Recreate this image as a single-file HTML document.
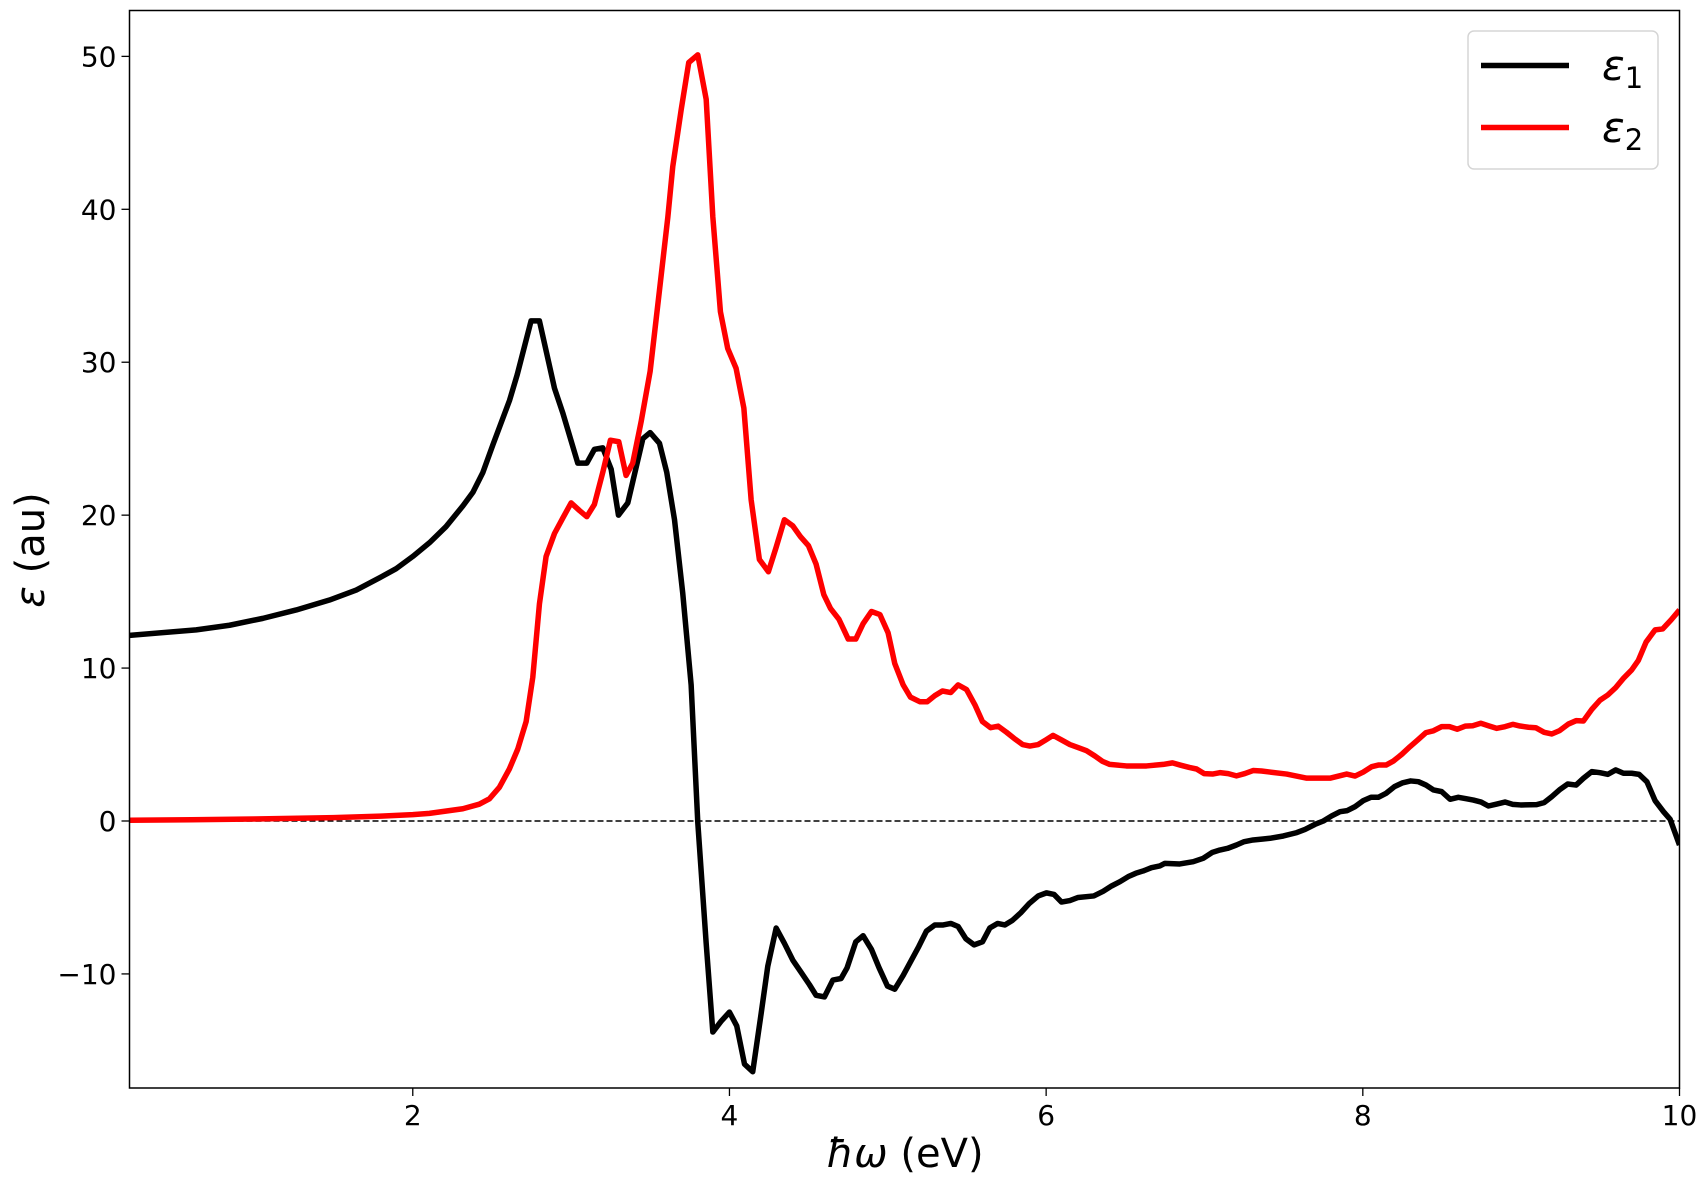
<!DOCTYPE html>
<html><head><meta charset="utf-8"><style>
html,body{margin:0;padding:0;background:#fff;}
svg{display:block;font-family:"DejaVu Sans","Liberation Sans",sans-serif;}
</style></head><body>
<svg id="chart" width="1707" height="1183" viewBox="0 0 1707 1183" xmlns="http://www.w3.org/2000/svg">
<rect x="0" y="0" width="1707" height="1183" fill="#fff"/>
<g id="grid-layer"></g>
<g id="series-layer"></g>
<rect x="129.5" y="10.5" width="1550" height="1077.5" fill="none" stroke="#000" stroke-width="1.5"/>
<g id="tick-layer"></g>
<text x="905" y="1167" font-size="40" text-anchor="middle"><tspan font-style="italic">ħω</tspan> (eV)</text>
<text x="0" y="0" font-size="40" text-anchor="middle" transform="translate(44,550) rotate(-90)"><tspan font-style="italic">ε</tspan> (au)</text>
<g>
<rect x="1468" y="31" width="190" height="138" rx="6" fill="#fff" stroke="#d5d5d5" stroke-width="1.5"/>
<line x1="1481" y1="65.5" x2="1569" y2="65.5" stroke="#000" stroke-width="5.5"/>
<text x="1602" y="80" font-size="42" font-style="italic">ε<tspan font-size="29" font-style="normal" dy="8">1</tspan></text>
<line x1="1481" y1="127.5" x2="1569" y2="127.5" stroke="#ff0000" stroke-width="5.5"/>
<text x="1602" y="142" font-size="42" font-style="italic">ε<tspan font-size="29" font-style="normal" dy="8">2</tspan></text>
</g>
</svg>
<script>
const eps1X = [0.211,0.632,0.843,1.053,1.264,1.474,1.643,1.79,1.895,2.0,2.106,2.21,2.316,2.38,2.443,2.506,2.611,2.66,2.747,2.80,2.895,2.947,3.042,3.099,3.147,3.2,3.253,3.299,3.358,3.453,3.499,3.558,3.604,3.653,3.705,3.758,3.8,3.853,3.895,3.947,4.0,4.046,4.095,4.147,4.2,4.242,4.295,4.347,4.4,4.453,4.505,4.547,4.6,4.653,4.705,4.743,4.798,4.844,4.897,4.945,4.998,5.044,5.097,5.149,5.196,5.244,5.297,5.35,5.398,5.444,5.493,5.545,5.598,5.644,5.693,5.739,5.787,5.84,5.893,5.95,6.002,6.05,6.097,6.15,6.202,6.301,6.36,6.413,6.466,6.518,6.566,6.617,6.665,6.718,6.75,6.844,6.929,6.992,7.05,7.097,7.146,7.202,7.251,7.307,7.37,7.414,7.498,7.583,7.635,7.698,7.751,7.803,7.856,7.902,7.951,8.003,8.052,8.098,8.147,8.2,8.252,8.302,8.351,8.399,8.446,8.498,8.551,8.603,8.652,8.698,8.747,8.793,8.846,8.898,8.947,8.997,9.098,9.145,9.193,9.246,9.294,9.347,9.393,9.446,9.498,9.547,9.597,9.646,9.698,9.745,9.794,9.846,9.899,9.941,10.0];
const eps1Y = [12.14,12.5,12.8,13.25,13.8,14.45,15.1,15.9,16.5,17.3,18.2,19.25,20.6,21.5,22.8,24.6,27.5,29.2,32.7,32.7,28.3,26.7,23.4,23.4,24.3,24.4,23.0,20.0,20.8,25.0,25.4,24.7,22.8,19.7,14.9,8.9,-0.1,-8.0,-13.8,-13.1,-12.5,-13.4,-15.9,-16.4,-12.6,-9.5,-7.0,-8.0,-9.1,-9.9,-10.7,-11.4,-11.5,-10.4,-10.3,-9.6,-7.9,-7.5,-8.4,-9.6,-10.8,-11.0,-10.1,-9.1,-8.2,-7.2,-6.8,-6.8,-6.7,-6.9,-7.7,-8.1,-7.9,-7.0,-6.7,-6.8,-6.5,-6.0,-5.4,-4.9,-4.7,-4.8,-5.3,-5.2,-5.0,-4.9,-4.6,-4.25,-3.97,-3.64,-3.42,-3.25,-3.05,-2.94,-2.77,-2.81,-2.66,-2.44,-2.05,-1.9,-1.79,-1.57,-1.35,-1.24,-1.18,-1.13,-0.98,-0.76,-0.55,-0.22,0,0.33,0.61,0.68,0.94,1.33,1.55,1.55,1.81,2.25,2.5,2.62,2.57,2.35,2.03,1.92,1.42,1.55,1.46,1.37,1.24,0.98,1.11,1.24,1.09,1.05,1.07,1.2,1.59,2.07,2.42,2.35,2.79,3.23,3.16,3.05,3.34,3.12,3.12,3.05,2.57,1.33,0.61,0.11,-1.57];
const eps2X = [0.2,0.6,1.0,1.5,1.8,2.0,2.105,2.316,2.42,2.484,2.547,2.61,2.663,2.716,2.758,2.8,2.842,2.895,2.947,3.0,3.053,3.099,3.147,3.2,3.248,3.301,3.347,3.389,3.442,3.499,3.558,3.611,3.642,3.695,3.743,3.8,3.853,3.895,3.943,3.989,4.042,4.091,4.137,4.189,4.246,4.295,4.347,4.4,4.448,4.499,4.547,4.596,4.638,4.691,4.75,4.798,4.844,4.897,4.95,5.002,5.044,5.097,5.143,5.202,5.249,5.297,5.345,5.398,5.444,5.497,5.55,5.598,5.649,5.697,5.75,5.798,5.851,5.897,5.95,5.998,6.044,6.097,6.15,6.202,6.255,6.308,6.356,6.402,6.507,6.634,6.739,6.798,6.849,6.904,6.95,6.998,7.051,7.097,7.15,7.202,7.255,7.307,7.36,7.414,7.519,7.646,7.793,7.898,7.951,8.003,8.056,8.098,8.147,8.193,8.246,8.298,8.347,8.399,8.446,8.498,8.547,8.597,8.646,8.694,8.745,8.793,8.846,8.898,8.947,8.993,9.046,9.092,9.145,9.193,9.241,9.298,9.347,9.393,9.446,9.498,9.547,9.597,9.646,9.698,9.74,9.789,9.846,9.894,9.947,10.0];
const eps2Y = [0.05,0.08,0.13,0.22,0.32,0.42,0.5,0.8,1.1,1.45,2.2,3.4,4.7,6.5,9.4,14.2,17.3,18.8,19.8,20.8,20.3,19.9,20.7,22.8,24.9,24.8,22.6,23.4,26.1,29.4,34.7,39.5,42.8,46.5,49.6,50.1,47.2,39.5,33.3,30.9,29.6,27.0,21.0,17.1,16.3,17.9,19.7,19.3,18.6,18.0,16.8,14.8,13.9,13.2,11.9,11.9,12.9,13.7,13.5,12.3,10.3,8.9,8.1,7.8,7.8,8.2,8.5,8.4,8.9,8.6,7.6,6.5,6.1,6.2,5.8,5.4,5.0,4.9,5.0,5.3,5.6,5.3,5.0,4.8,4.6,4.25,3.9,3.7,3.6,3.6,3.7,3.8,3.65,3.5,3.4,3.1,3.07,3.16,3.1,2.95,3.1,3.3,3.27,3.2,3.07,2.8,2.8,3.07,2.94,3.2,3.55,3.66,3.66,3.92,4.36,4.86,5.3,5.78,5.9,6.17,6.17,6.0,6.2,6.23,6.39,6.23,6.06,6.17,6.32,6.21,6.13,6.1,5.8,5.69,5.9,6.34,6.56,6.54,7.3,7.9,8.24,8.72,9.33,9.88,10.5,11.7,12.5,12.56,13.15,13.8];
const xTicks = [2,4,6,8,10];
const yTicks = [-10,0,10,20,30,40,50];
const yTickLabels = ["\u221210","0","10","20","30","40","50"];

const NS = "http://www.w3.org/2000/svg";
const X0 = 129.5, X1 = 1679.5, Y0 = 10.5, Y1 = 1088;
const xMin = 0.211, xMax = 10, yMin = -17.46, yMax = 53.0;
function xs(v){ return X0 + (v - xMin) / (xMax - xMin) * (X1 - X0); }
function ys(v){ return Y1 - (v - yMin) / (yMax - yMin) * (Y1 - Y0); }
function mk(tag, attrs, parent){ const e = document.createElementNS(NS, tag); for (const k in attrs) e.setAttribute(k, attrs[k]); parent.appendChild(e); return e; }

const grid = document.getElementById('grid-layer');
const zl = mk('line', {x1: X0, x2: X1, y1: ys(0), y2: ys(0), stroke: '#000', 'stroke-width': 1.6, 'stroke-dasharray': '6,3'}, grid);



const series = document.getElementById('series-layer');
function drawLine(xa, ya, color, name){
  let d = '';
  for (let i = 0; i < xa.length; i++) d += (i ? 'L' : 'M') + xs(xa[i]).toFixed(2) + ',' + ys(ya[i]).toFixed(2);
  const p = mk('path', {d: d, fill: 'none', stroke: color, 'stroke-width': 5.5, 'stroke-linejoin': 'round', 'stroke-linecap': 'butt'}, series);
  
  
}
const clip = mk('clipPath', {id: 'pc'}, document.getElementById('chart'));
mk('rect', {x: X0, y: Y0, width: X1 - X0, height: Y1 - Y0}, clip);
series.setAttribute('clip-path', 'url(#pc)');
drawLine(eps1X, eps1Y, '#000', 'eps1-line');
drawLine(eps2X, eps2Y, '#ff0000', 'eps2-line');

const ticks = document.getElementById('tick-layer');
xTicks.forEach(v => {
  const t = mk('line', {x1: xs(v), x2: xs(v), y1: Y1, y2: Y1 + 8, stroke: '#000', 'stroke-width': 1.3}, ticks);
  
  
  const l = mk('text', {x: xs(v), y: Y1 + 37, 'font-size': 28, 'text-anchor': 'middle'}, ticks);
  l.textContent = String(v);
  
  
});
yTicks.forEach((v, i) => {
  const t = mk('line', {x1: X0 - 8, x2: X0, y1: ys(v), y2: ys(v), stroke: '#000', 'stroke-width': 1.3}, ticks);
  
  
  const l = mk('text', {x: X0 - 13, y: ys(v) + 10, 'font-size': 28, 'text-anchor': 'end'}, ticks);
  l.textContent = yTickLabels[i];
  
  
});
</script>
</body></html>
